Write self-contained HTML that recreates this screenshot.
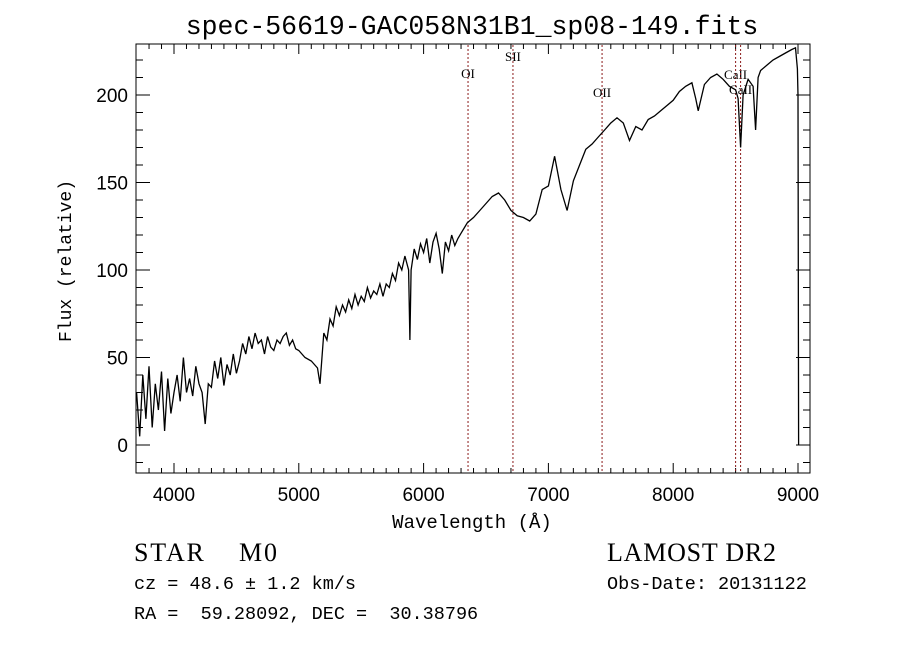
<!DOCTYPE html>
<html><head><meta charset="utf-8"><style>
html,body{margin:0;padding:0;background:#fff;}
svg{display:block;}
text{font-family:"Liberation Mono","DejaVu Sans Mono",monospace;fill:#000;white-space:pre;}
.sans{font-family:"Liberation Sans",sans-serif;}
.serif{font-family:"Liberation Serif",serif;}
</style></head><body>
<svg id="chart" width="900" height="649" viewBox="0 0 900 649" xmlns="http://www.w3.org/2000/svg" xml:space="preserve">
<rect width="900" height="649" fill="#fff"/>
<text x="472" y="34" font-size="26.5" text-anchor="middle">spec-56619-GAC058N31B1_sp08-149.fits</text>
<rect x="136" y="44" width="674" height="429" fill="none" stroke="#000" stroke-width="1"/>
<g id="grid"></g>
<g id="lines"></g>
<path id="spec" fill="none" stroke="#000" stroke-width="1.3"/>
<text x="472" y="528" font-size="19" text-anchor="middle">Wavelength (Å)</text>
<text transform="translate(71,261) rotate(-90)" font-size="18" text-anchor="middle">Flux (relative)</text>
<text class="serif" x="134" y="561" font-size="26" textLength="143" lengthAdjust="spacing">STAR    M0</text>
<text x="134" y="589" font-size="18.5">cz = 48.6 ± 1.2 km/s</text>
<text x="134" y="619" font-size="18.5">RA =  59.28092, DEC =  30.38796</text>
<text class="serif" x="607" y="561" font-size="26" textLength="169" lengthAdjust="spacing">LAMOST DR2</text>
<text x="607" y="589" font-size="18.5">Obs-Date: 20131122</text>
</svg>
<script>
const waves = [3700,3725,3750,3775,3800,3825,3850,3875,3900,3925,3950,3975,4000,4025,4050,4075,4100,4125,4150,4175,4200,4225,4250,4275,4300,
4325,4350,4375,4400,4425,4450,4475,4500,4525,4550,4575,4600,4625,4650,4675,4700,4725,4750,4775,4800,4825,4850,4875,4900,4925,4950,4975,5000,5050,5100,5150,5170,5200,5225,5250,5275,5300,5325,5350,5375,5400,5425,5450,5475,5500,5525,5550,5575,5600,5625,5650,5675,5700,5725,5750,5775,5800,5825,5850,5880,5890,5900,5925,5950,5975,6000,6025,6050,6075,6100,6125,6150,6175,6200,6225,6250,6275,6300,6325,6350,6400,6450,6500,6550,6600,6650,6700,6750,6800,6850,6900,6950,7000,7050,7100,7150,7200,7250,7300,7350,7400,7450,7500,7550,7600,7650,7700,7750,7800,7850,7900,7950,8000,8050,8100,8150,8180,8200,8250,8300,8350,8400,8450,8500,8520,8540,8560,8600,8640,8660,8680,8700,8750,8800,8850,8900,8950,8980,8995,9000,9005];
const fluxes = [30,5,40,15,45,10,35,20,42,8,38,18,30,40,25,50,30,38,28,45,35,30,12,35,33,
48,38,50,34,46,40,52,41,48,58,52,62,55,64,58,60,52,62,56,54,60,58,62,64,57,60,55,54,50,48,44,35,64,60,72,68,79,74,80,76,83,78,86,80,85,82,90,84,88,86,92,85,92,90,98,94,104,100,108,100,60,100,112,106,115,110,118,104,116,121,112,98,116,111,120,114,118,121,124,127,130,134,138,142,144,140,134,131,130,128,132,146,148,165,146,134,151,160,169,172,176,180,184,187,184,174,182,180,186,188,191,194,197,202,205,207,198,191,206,210,212,209,205,203,198,170,200,209,205,180,210,214,217,220,222,224,226,227,215,200,0];
const lineWaves = [6356,6716,7430,8500,8540];
const lineNames = ['OI','SII','OII','CaII','CaII'];
const lineLabelY = [78,61,97,79,94];
const xTicks = [4000,5000,6000,7000,8000,9000];
const yTicks = [0,50,100,150,200];

const X = w => 174 + (w - 4000) * 0.1248;
const Y = f => 445 - f * 1.75;
const NS = 'http://www.w3.org/2000/svg';
const svg = document.getElementById('chart');
const grid = document.getElementById('grid');
function mk(tag, attrs, parent){const e=document.createElementNS(NS,tag);for(const k in attrs)e.setAttribute(k,attrs[k]);(parent||svg).appendChild(e);return e;}

xTicks.forEach(t=>{
  const x=X(t);
  const l=mk('line',{x1:x,x2:x,y1:473,y2:463,stroke:'#000'},grid);
  
  
  const l2=mk('line',{x1:x,x2:x,y1:44,y2:54,stroke:'#000'},grid);
  
  
  const tx=mk('text',{x:x,y:501,'font-size':19,'text-anchor':'middle','class':'sans'},grid);
  tx.textContent=String(t);
  
  
});
for(let w=3800; w<=9050; w+=100){
  if(w%1000===0) continue;
  const x=X(w);
  if(x<136||x>810) continue;
  const m=mk('line',{x1:x,x2:x,y1:473,y2:468,stroke:'#000'},grid);
  
  
  const m2=mk('line',{x1:x,x2:x,y1:44,y2:49,stroke:'#000'},grid);
  
  
}
yTicks.forEach(t=>{
  const y=Y(t);
  const l=mk('line',{x1:136,x2:150,y1:y,y2:y,stroke:'#000'},grid);
  
  
  const l2=mk('line',{x1:796,x2:810,y1:y,y2:y,stroke:'#000'},grid);
  
  
  const tx=mk('text',{x:128,y:y+7,'font-size':19,'text-anchor':'end','class':'sans'},grid);
  tx.textContent=String(t);
  
  
});
for(let f=-10; f<=225; f+=10){
  if(f%50===0) continue;
  const y=Y(f);
  const m=mk('line',{x1:136,x2:143,y1:y,y2:y,stroke:'#000'},grid);
  
  
  const m2=mk('line',{x1:803,x2:810,y1:y,y2:y,stroke:'#000'},grid);
  
  
}
const lg=document.getElementById('lines');
lineWaves.forEach((w,i)=>{
  const x=X(w);
  const l=mk('line',{x1:x,x2:x,y1:45,y2:472,stroke:'#8b1a1a','stroke-width':1,'stroke-dasharray':'2,2'},lg);
  
  
  const t=mk('text',{x:x,y:lineLabelY[i],'font-size':13,'text-anchor':'middle','class':'serif'},lg);
  t.textContent=lineNames[i];
  
  
});
let d='';
waves.forEach((w,i)=>{ d += (i?'L':'M') + X(w).toFixed(1) + ',' + Y(fluxes[i]).toFixed(1); });
document.getElementById('spec').setAttribute('d', d);
</script>
</body></html>
